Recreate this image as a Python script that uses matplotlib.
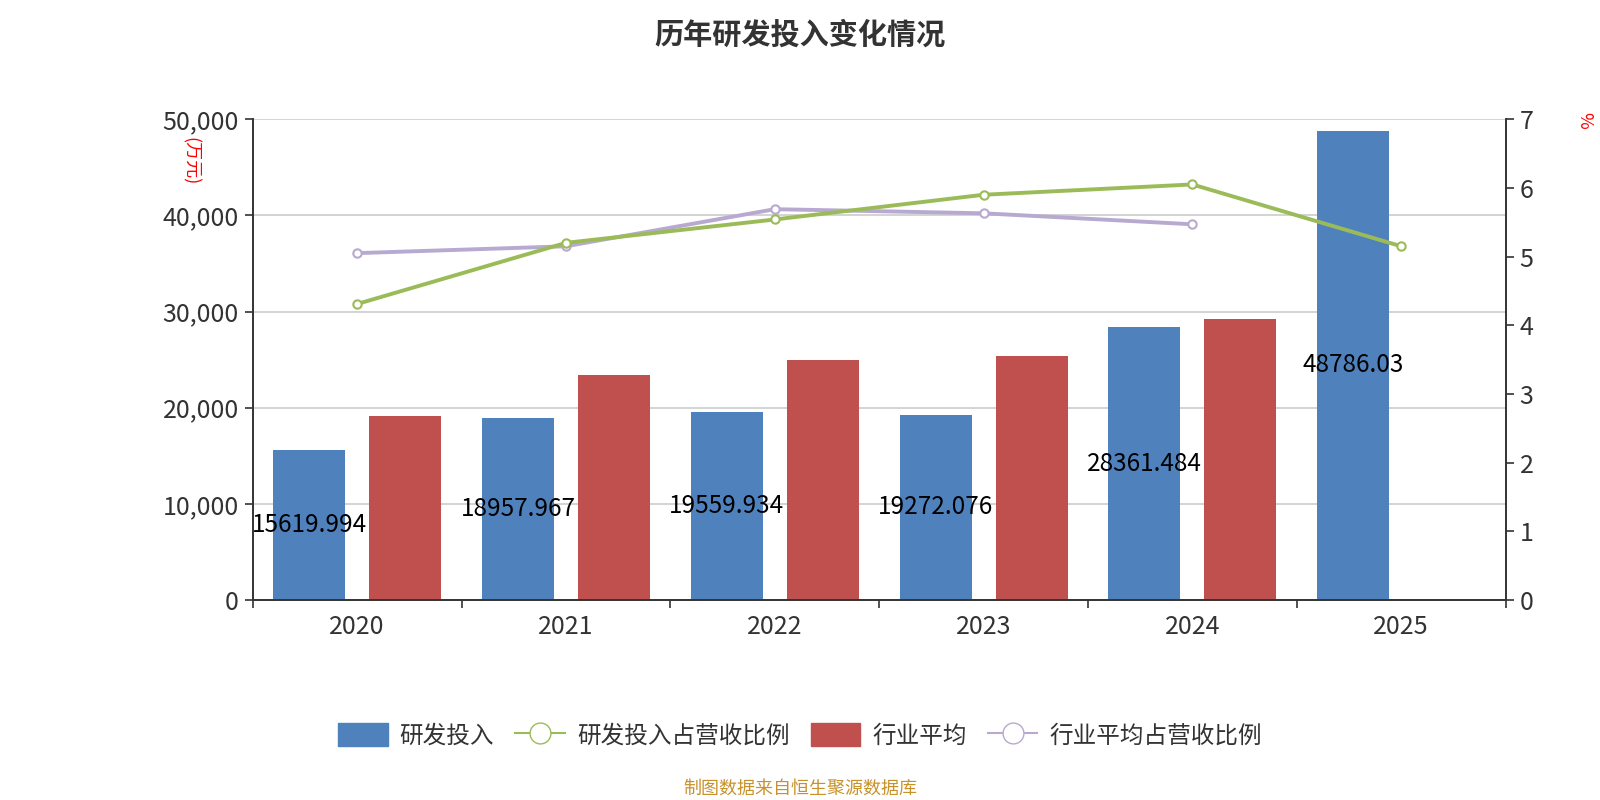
import matplotlib
matplotlib.use("Agg")
import matplotlib.pyplot as plt
from matplotlib.ticker import FuncFormatter, MultipleLocator
from matplotlib.lines import Line2D
from matplotlib.patches import Patch
import numpy as np

plt.rcParams['font.family'] = ['Noto Sans CJK SC', 'DejaVu Sans']

years = ["2020", "2021", "2022", "2023", "2024", "2025"]
rd_spend = [15619.994, 18957.967, 19559.934, 19272.076, 28361.484, 48786.03]
industry_avg = [19100, 23450, 24950, 25380, 29200, None]
rd_ratio = [4.31, 5.20, 5.54, 5.90, 6.05, 5.15]
industry_ratio = [5.05, 5.15, 5.69, 5.63, 5.47, None]

blue, red = "#4F81BD", "#C0504D"
green, purple = "#9BBB59", "#B8A9D0"

fig = plt.figure(figsize=(16, 8), dpi=100)
ax = fig.add_axes([0.158, 0.25, 0.783, 0.601])
ax2 = ax.twinx()

x = np.arange(len(years))
w, off = 0.345, 0.23
ax.bar(x - off, rd_spend, w, color=blue, zorder=2)
ind_x = [i + off for i, v in enumerate(industry_avg) if v is not None]
ind_v = [v for v in industry_avg if v is not None]
ax.bar(ind_x, ind_v, w, color=red, zorder=2)

for i, v in enumerate(rd_spend):
    ax.text(i - off, v / 2, f"{v}", ha="center", va="center",
            fontsize=17.5, color="black", zorder=5)

ax.set_ylim(0, 50000)
ax.set_xlim(-0.5, len(years) - 0.5)
ax.yaxis.set_major_locator(MultipleLocator(10000))
ax.yaxis.set_major_formatter(FuncFormatter(lambda v, p: f"{int(v):,}"))
ax.grid(axis="y", color="#CCCCCC", linewidth=1.2, zorder=0)
ax.set_axisbelow(True)
ax.set_xticks(x)
ax.set_xticklabels(years)
ax.set_xticks(np.arange(-0.5, len(years)), minor=True)
ax.tick_params(axis="x", which="major", length=0, labelsize=18, colors="#333333", pad=10)
ax.tick_params(axis="x", which="minor", length=6, width=1.2, color="#333333")
ax.tick_params(axis="y", length=6, width=1.2, labelsize=18, colors="#333333", pad=4)

ax2.plot(x[:len(rd_ratio)], rd_ratio, color=green, linewidth=2.8, marker="o", markersize=6,
         markerfacecolor="white", markeredgecolor=green, markeredgewidth=1.5, zorder=4)
ir_x = [i for i, v in enumerate(industry_ratio) if v is not None]
ir_v = [v for v in industry_ratio if v is not None]
ax2.plot(ir_x, ir_v, color=purple, linewidth=2.8, marker="o", markersize=6,
         markerfacecolor="white", markeredgecolor=purple, markeredgewidth=1.5, zorder=3)
ax2.set_ylim(0, 7)
ax2.yaxis.set_major_locator(MultipleLocator(1))
ax2.tick_params(axis="y", length=6, width=1.2, labelsize=18, colors="#333333", pad=4)

for a in (ax, ax2):
    a.spines["top"].set_visible(False)
    for s in ("left", "right", "bottom"):
        a.spines[s].set_color("#333333")
        a.spines[s].set_linewidth(1.2)

fig.text(0.119, 0.798, "(万元)", color="red", fontsize=13, rotation=-90, ha="center", va="center")
fig.text(0.99, 0.85, "%", color="red", fontsize=13, rotation=-90, ha="center", va="center")

fig.suptitle("历年研发投入变化情况", x=0.5, y=0.975, fontsize=21, fontweight="bold", color="#333333")

handles = [
    Patch(facecolor=blue, edgecolor=blue),
    Line2D([0], [0], color=green, marker="o", markersize=15, markerfacecolor="white",
           markeredgecolor=green, linewidth=1.5),
    Patch(facecolor=red, edgecolor=red),
    Line2D([0], [0], color=purple, marker="o", markersize=15, markerfacecolor="white",
           markeredgecolor=purple, linewidth=1.5),
]
labels = ["研发投入", "研发投入占营收比例", "行业平均", "行业平均占营收比例"]
fig.legend(handles, labels, loc="center", bbox_to_anchor=(0.5, 0.081), ncol=4, frameon=False,
           fontsize=17, handlelength=2.1, handleheight=1.1, columnspacing=0.9, handletextpad=0.5,
           labelcolor="#333333")

fig.text(0.5, 0.014, "制图数据来自恒生聚源数据库", color="#C8922A", fontsize=13, ha="center", va="center")

fig.savefig("out.png", dpi=100)
